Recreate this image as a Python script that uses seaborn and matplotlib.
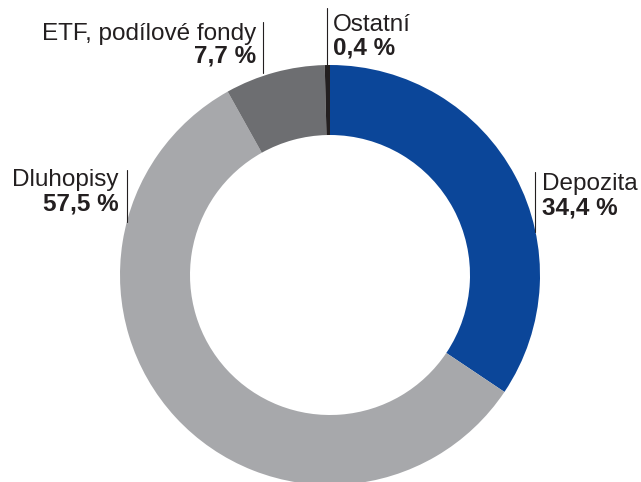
import matplotlib.pyplot as plt
import seaborn as sns

sns.set_style('white')
plt.rcParams['font.family'] = ['Liberation Sans', 'DejaVu Sans']

# data
categories = ['Depozita', 'Dluhopisy', 'ETF, podílové fondy', 'Ostatní']
shares = [34.4, 57.5, 7.7, 0.4]
share_labels = ['34,4 %', '57,5 %', '7,7 %', '0,4 %']
colors = ['#0B4699', '#A7A8AB', '#6D6E71', '#231F20']

# geometry in pixels (centre, radius) of the reference
cx, cy, r = 330, 275, 210
W, H = 641, 482


def px(x, y):
    return (x - cx) / r, (cy - y) / r


fig = plt.figure(figsize=(6.41, 4.82), dpi=100)
ax = fig.add_axes([0, 0, 1, 1])
ax.pie(shares, colors=colors, startangle=90, counterclock=False,
       radius=1.0, wedgeprops={'width': 1 / 3, 'linewidth': 0})
ax.set_xlim(-cx / r, (W - cx) / r)
ax.set_ylim((cy - H) / r, cy / r)
ax.set_aspect('equal')
ax.axis('off')

txt = '#231F20'
fs = 17.5
# (line x, line y0, line y1, text x, name baseline, value baseline, align)
label_pos = [
    (535, 172, 232, 542, 190, 215, 'left'),
    (127, 170, 222, 119, 186, 210, 'right'),
    (263, 22, 73, 256, 40, 63, 'right'),
    (327, 8, 65, 333, 31, 55, 'left'),
]

for name, val, (lx, ly0, ly1, tx, yb1, yb2, ha) in zip(categories, share_labels, label_pos):
    x0, y0 = px(lx, ly0)
    x1, y1 = px(lx, ly1)
    ax.plot([x0, x1], [y0, y1], color=txt, lw=0.8)
    ax.text(*px(tx, yb1), name, ha=ha, va='baseline', fontsize=fs, color=txt)
    ax.text(*px(tx, yb2), val, ha=ha, va='baseline', fontsize=fs,
            fontweight='bold', color=txt)

fig.savefig('out.png', dpi=100)
